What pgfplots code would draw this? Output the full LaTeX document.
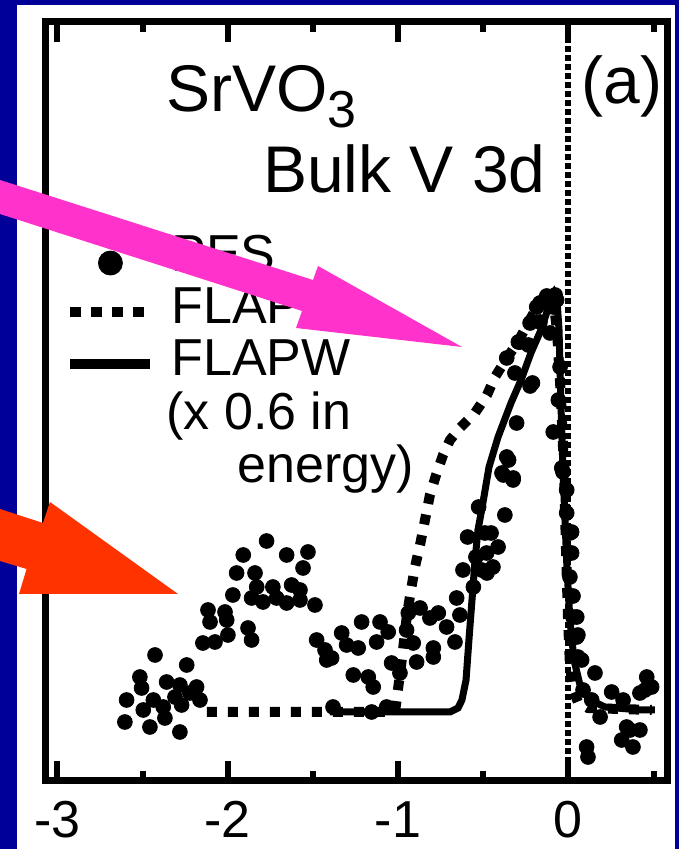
\documentclass[border=0pt]{standalone}
\usepackage{pgfplots}
\pgfplotsset{compat=1.18}
\usepackage{fontspec}
\setmainfont{Liberation Sans}
\definecolor{navy}{RGB}{0,0,153}
\definecolor{mag}{RGB}{255,51,204}
\definecolor{orng}{RGB}{255,51,0}
\pgfplotsset{
  dotleg/.style={legend image code/.code={\draw[mark repeat=2,mark phase=2,##1] plot coordinates {(0pt,-4pt)(20pt,-4pt)(40pt,-4pt)};}},
  lineleg/.style={legend image code/.code={\draw[##1] (0pt,-2.5pt) -- (40pt,-2.5pt);}},
}
\pgfplotstableread{
x y
-2.604 -10
-2.594 12
-2.516 35
-2.506 24
-2.496 2
-2.457 -15
-2.437 12
-2.427 57
-2.379 5
-2.369 -6
-2.359 30
-2.310 15
-2.281 27
-2.281 -20
-2.271 7
-2.241 47
-2.222 19
-2.183 25
-2.163 12
-2.146 69
-2.116 102
-2.104 90
-2.075 70
-2.016 100
-2.006 92
-1.999 77
-1.970 117
-1.948 139
-1.909 157
-1.881 84
-1.860 114
-1.860 72
-1.840 139
-1.830 125
-1.793 110
-1.772 171
-1.735 125
-1.713 114
-1.654 157
-1.654 109
-1.625 127
-1.576 122
-1.576 112
-1.558 144
-1.529 160
-1.488 107
-1.478 72
-1.419 52
-1.429 62
-1.390 54
-1.382 5
-1.331 79
-1.302 67
-1.263 37
-1.234 64
-1.214 90
-1.175 35
-1.155 0
-1.146 25
-1.126 70
-1.106 90
-1.067 5
-1.058 80
-1.038 49
-0.989 39
-0.950 82
-0.940 99
-0.911 69
-0.891 50
-0.871 104
-0.813 94
-0.793 64
-0.793 55
-0.764 99
-0.715 85
-0.666 70
-0.656 114
-0.637 97
-0.619 142
-0.592 175
-0.558 125
-0.543 155
-0.527 205
-0.509 142
-0.490 179
-0.480 159
-0.478 139
-0.454 179
-0.443 145
-0.413 165
-0.390 239
-0.382 237
-0.373 197
-0.362 255
-0.351 252
-0.325 232
-0.324 234
-0.362 354
-0.314 339
-0.304 289
-0.294 370
-0.284 370
-0.235 367
-0.225 389
-0.225 326
-0.211 329
-0.186 405
-0.167 409
-0.167 390
-0.127 416
-0.108 379
-0.090 405
-0.078 417
-0.069 412
-0.049 345
-0.059 312
-0.089 280
-0.039 244
-0.032 240
-0.010 222
-0.010 199
0.009 179
0.019 180
0.019 159
0.009 135
0.027 116
0.027 95
0.049 95
0.049 75
0.056 77
0.056 55
0.078 52
0.086 22
0.107 -35
0.115 -45
0.137 12
0.156 39
0.186 -5
0.254 20
0.313 -28
0.321 12
0.342 -15
0.362 -18
0.379 -35
0.420 19
0.420 -18
0.450 22
0.460 35
0.489 25
}\pestable
\pgfplotstableread{
x y
-2.122 0
-1.018 0
-1.001 22
-0.971 62
-0.948 97
-0.924 122
-0.901 145
-0.871 167
-0.842 192
-0.813 217
-0.777 237
-0.736 257
-0.695 272
-0.637 284
-0.549 299
-0.478 317
-0.431 335
-0.361 354
-0.296 370
-0.237 389
-0.184 405
-0.137 417
-0.114 421
-0.090 414
-0.067 382
-0.043 312
-0.026 242
-0.014 162
-0.002 92
0.009 47
0.027 22
0.056 10
0.115 4
0.490 2
}\flapwtable
\pgfplotstableread{
x y
-1.400 0
-0.695 0
-0.648 4
-0.625 12
-0.601 32
-0.584 72
-0.566 112
-0.548 152
-0.531 182
-0.507 204
-0.466 245
-0.413 275
-0.337 309
-0.278 332
-0.220 359
-0.161 382
-0.126 400
-0.102 414
-0.085 419
-0.067 412
-0.055 382
-0.049 342
-0.041 292
-0.032 242
-0.020 192
-0.008 142
0.009 92
0.033 52
0.068 27
0.127 12
0.215 5
0.420 2
0.508 2
}\scaledtable
\begin{document}
\begin{tikzpicture}
\fill[navy] (0pt,0pt) rectangle (339.5pt,424.5pt);
\fill[white] (8.5pt,0pt) rectangle (337.5pt,422pt);
\begin{axis}[
  at={(22.5pt,34pt)}, anchor=south west,
  scale only axis, width=311pt, height=379.5pt,
  xmin=-3.073, xmax=0.579, ymin=-69, ymax=690,
  axis line style={line width=3.5pt, black},
  xtick={-3,-2,-1,0}, xticklabels={-3,-2,-1,0},
  minor xtick={-2.5,-1.5,-0.5,0.5},
  ytick=\empty,
  major tick length=10pt, minor tick length=5pt,
  tick style={black, line width=3pt},
  tick align=inside,
  xticklabel style={font=\fontsize{26}{26}\selectfont, inner sep=0pt, yshift=-10pt},
  legend cell align=left,
  legend style={draw=none, fill=none, inner sep=0pt, anchor=north west,
    at={(axis description cs:0.0322,0.7194)},
    font=\fontsize{26}{27}\selectfont, row sep=6.5pt,
    nodes={inner sep=0pt},
    /tikz/every odd column/.append style={column sep=8pt}},
]
\addlegendimage{only marks, mark=*, mark size=6pt, black, dotleg}
\addlegendentry{PES}
\addlegendimage{black, line width=5pt, dash pattern=on 5.5pt off 5pt, lineleg}
\addlegendentry{FLAPW}
\addlegendimage{black, line width=5pt, lineleg}
\addlegendentry{FLAPW}
\addlegendimage{empty legend}
\addlegendentry{\hspace{-2.5pt}(x 0.6 in}
\addlegendimage{empty legend}
\addlegendentry{\hspace{33pt}energy)}

\addplot[forget plot, black, line width=5pt, dash pattern=on 5pt off 5.5pt] table {\flapwtable};
\addplot[forget plot, black, line width=3.5pt] table {\scaledtable};
\addplot[forget plot, black, line width=3pt, dash pattern=on 3pt off 1.5pt] coordinates {(0,-69) (0,690)};
\addplot[forget plot, only marks, mark=*, mark size=3.7pt, black] table {\pestable};
\end{axis}
\begin{scope}[x=0.5pt, y=-0.5pt, shift={(0pt,424.5pt)}]
\node[anchor=base west, inner sep=0pt, font=\fontsize{33}{33}\selectfont] at (166,112) {SrVO\raisebox{-8pt}{\fontsize{26}{26}\selectfont 3}};
\node[anchor=base east, inner sep=0pt, font=\fontsize{33}{33}\selectfont] at (546,193) {Bulk V 3d};
\node[anchor=base west, inner sep=0pt, font=\fontsize{33}{33}\selectfont] at (581,104) {(a)};
\fill[mag] (0,180) -- (313,280) -- (318,266) -- (462,347) -- (296,328) -- (302,311) -- (0,214) -- cycle;
\fill[orng] (0,509) -- (43,523) -- (50,502) -- (178,594) -- (19,594) -- (26.6,569) -- (0,561) -- cycle;
\end{scope}
\pgfresetboundingbox
\useasboundingbox (0pt,0pt) rectangle (339.5pt,424.5pt);
\end{tikzpicture}
\end{document}
